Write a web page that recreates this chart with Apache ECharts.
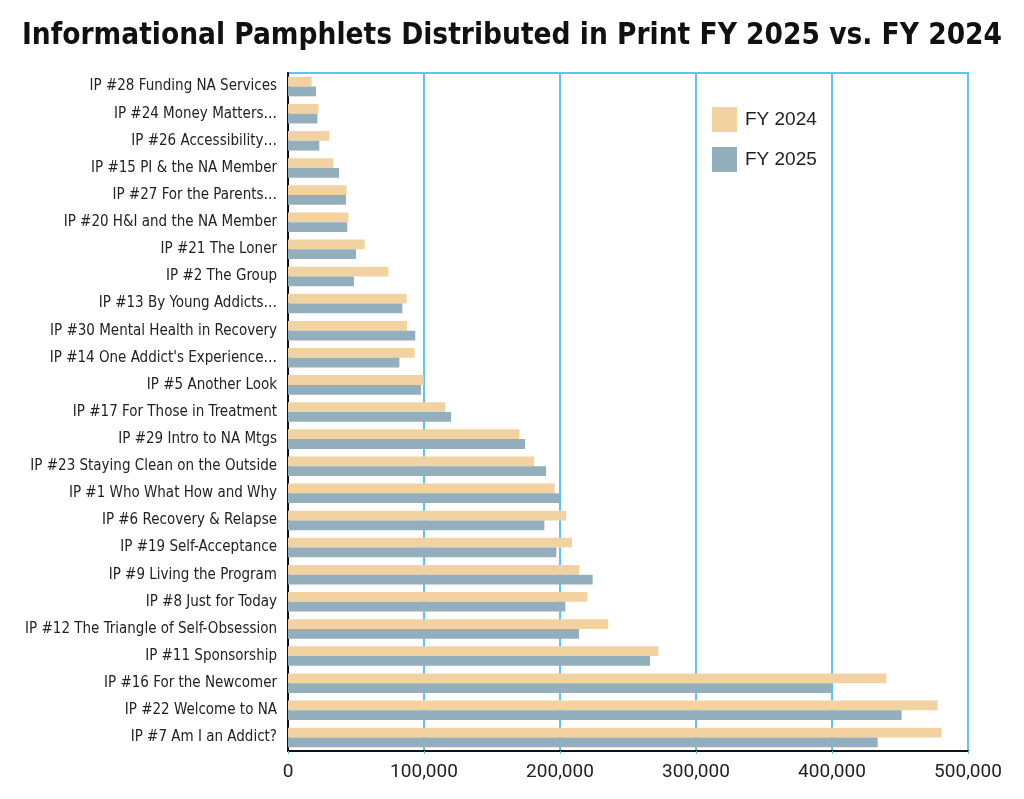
<!DOCTYPE html>
<html>
<head>
<meta charset="utf-8">
<script src="https://cdn.jsdelivr.net/npm/echarts@6/dist/echarts.min.js"></script>
<style>
    html, body { margin: 0; padding: 0; background: #fff; }
    #chart { width: 1024px; height: 799px; }
</style>
</head>
<body>
<div id="chart"></div>
<script>
// categories, top to bottom
var pamphlets = [
    'IP #28 Funding NA Services',
    'IP #24 Money Matters…',
    'IP #26 Accessibility…',
    'IP #15 PI & the NA Member',
    'IP #27 For the Parents…',
    'IP #20 H&I and the NA Member',
    'IP #21 The Loner',
    'IP #2 The Group',
    'IP #13 By Young Addicts…',
    'IP #30 Mental Health in Recovery',
    "IP #14 One Addict's Experience…",
    'IP #5 Another Look',
    'IP #17 For Those in Treatment',
    'IP #29 Intro to NA Mtgs',
    'IP #23 Staying Clean on the Outside',
    'IP #1 Who What How and Why',
    'IP #6 Recovery & Relapse',
    'IP #19 Self-Acceptance',
    'IP #9 Living the Program',
    'IP #8 Just for Today',
    'IP #12 The Triangle of Self-Obsession',
    'IP #11 Sponsorship',
    'IP #16 For the Newcomer',
    'IP #22 Welcome to NA',
    'IP #7 Am I an Addict?'
];

var fy2024 = [17400, 22300, 30400, 33300, 43100, 44400, 56400, 73800, 87300, 87500,
    93100, 99800, 115700, 170100, 180900, 196100, 204400, 208800, 214200, 220100,
    235500, 272300, 440000, 477700, 480700];

var fy2025 = [20600, 21600, 23000, 37500, 42600, 43600, 50000, 48500, 84100, 93600,
    81900, 97800, 119900, 174300, 189700, 200000, 188500, 197300, 224000, 203900,
    214000, 266200, 400000, 451200, 433600];

var seriesNames = ['FY 2024', 'FY 2025'];

var narrowFont = '"DejaVu Sans Condensed", "Liberation Sans Narrow", sans-serif';

var chart = echarts.init(document.getElementById('chart'));
var option = {
    animation: false,
    title: {
        text: 'Informational Pamphlets Distributed in Print FY 2025 vs. FY 2024',
        left: 'center',
        top: 16,
        textStyle: {
            fontFamily: narrowFont,
            fontWeight: 'bold',
            fontSize: 29.5,
            color: '#111'
        }
    },
    legend: {
        orient: 'vertical',
        left: 712,
        top: 107,
        padding: 0,
        icon: 'rect',
        itemWidth: 25,
        itemHeight: 25,
        itemGap: 15,
        data: seriesNames,
        textStyle: {
            fontFamily: '"Liberation Sans", Arial, sans-serif',
            fontSize: 19,
            padding: [0, 0, 0, 3],
            color: '#222'
        }
    },
    grid: {
        left: 288,
        right: 56,
        top: 73,
        bottom: 48,
        show: true,
        borderColor: '#5cc6f3',
        borderWidth: 2
    },
    xAxis: {
        type: 'value',
        min: 0,
        max: 500000,
        interval: 100000,
        axisLine: { show: true, lineStyle: { color: '#111', width: 2 } },
        axisTick: { show: true, length: 3, lineStyle: { color: '#5cc6f3' } },
        axisLabel: {
            color: '#222',
            fontFamily: 'Roboto, sans-serif',
            fontSize: 19,
            margin: 12,
            formatter: function (v) { return v.toLocaleString('en-US'); }
        },
        splitLine: { show: true, lineStyle: { color: '#5cc6f3', width: 2 } }
    },
    yAxis: {
        type: 'category',
        inverse: true,
        data: pamphlets,
        axisLine: { show: true, lineStyle: { color: '#111', width: 2 } },
        axisTick: { show: false },
        axisLabel: {
            color: '#222',
            fontFamily: narrowFont,
            fontSize: 15,
            margin: 11
        }
    },
    series: [
        {
            name: seriesNames[0],
            type: 'bar',
            data: fy2024,
            barGap: '0%',
            barCategoryGap: '28%',
            itemStyle: { color: '#f2d2a0' }
        },
        {
            name: seriesNames[1],
            type: 'bar',
            data: fy2025,
            barGap: '0%',
            barCategoryGap: '28%',
            itemStyle: { color: '#93aebd' }
        }
    ]
};
chart.setOption(option);
</script>
</body>
</html>
